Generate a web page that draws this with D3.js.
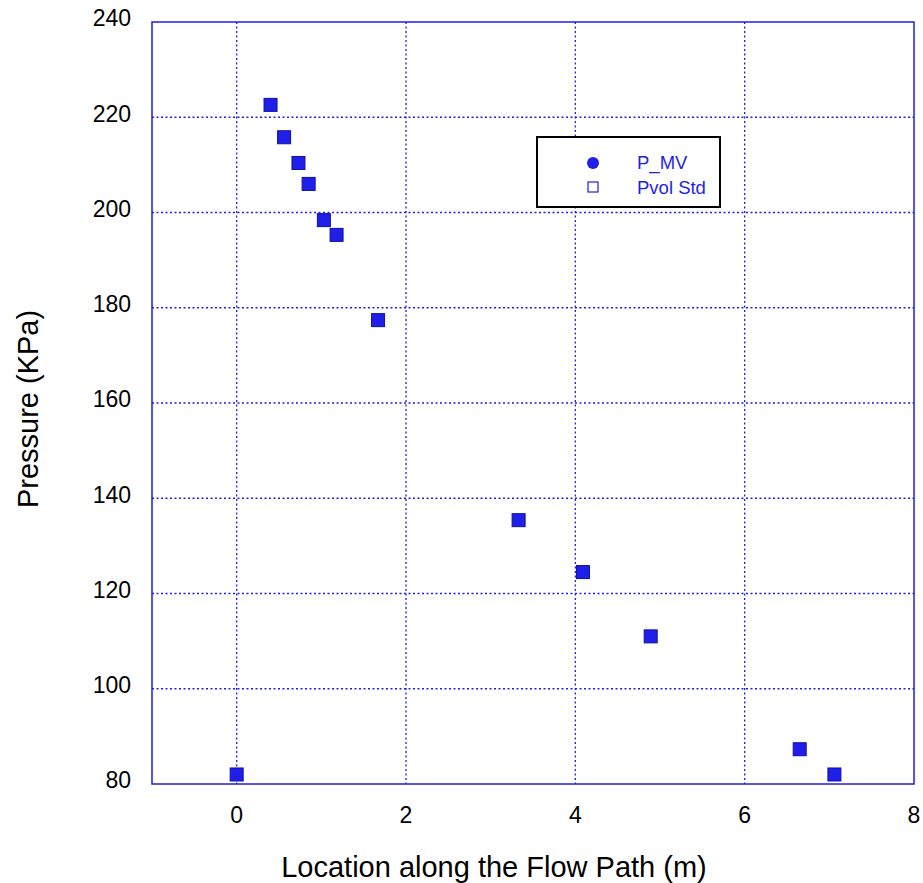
<!DOCTYPE html>
<html>
<head>
<meta charset="utf-8">
<script src="https://cdn.jsdelivr.net/npm/d3@7"></script>
<style>
  body { margin: 0; background: #fff; }
  text { font-family: "Liberation Sans", Arial, sans-serif; }
</style>
</head>
<body>
<svg width="923" height="883"></svg>
<script>
// values
const location_m = [0, 0.40, 0.56, 0.73, 0.85, 1.03, 1.18, 1.67, 3.33, 4.09, 4.89, 6.65, 7.06];
const pressure = [82, 222.6, 215.8, 210.4, 206, 198.4, 195.3, 177.4, 135.4, 124.5, 111, 87.3, 82];
const xTicks = [0, 2, 4, 6, 8];
const yTicks = [80, 100, 120, 140, 160, 180, 200, 220, 240];
const legendNames = ['P_MV', 'Pvol Std'];

const blue = '#1f1fe8';
const svg = d3.select('svg');
const m = { left: 152, right: 914, top: 22, bottom: 784 };

const x = d3.scaleLinear().domain([-1, 8]).range([m.left, m.right]);
const y = d3.scaleLinear().domain([80, 240]).range([m.bottom, m.top]);

// grid
const grid = svg.append('g').attr('stroke', blue).attr('stroke-width', 1.3).attr('stroke-dasharray', '2,2.5');
grid.selectAll('line.v').data(xTicks.filter(d => d > -1 && d < 8)).enter().append('line')
  .attr('x1', d => x(d)).attr('x2', d => x(d)).attr('y1', m.top).attr('y2', m.bottom);
grid.selectAll('line.h').data(yTicks.filter(d => d > 80 && d < 240)).enter().append('line')
  .attr('x1', m.left).attr('x2', m.right).attr('y1', d => y(d)).attr('y2', d => y(d));

// frame
svg.append('rect').attr('x', m.left).attr('y', m.top)
  .attr('width', m.right - m.left).attr('height', m.bottom - m.top)
  .attr('fill', 'none').attr('stroke', blue).attr('stroke-width', 1.5);

// tick labels
svg.append('g').selectAll('text').data(yTicks).enter().append('text')
  .attr('x', 131).attr('y', d => y(d) - 4).attr('dy', '0.36em')
  .attr('text-anchor', 'end').attr('font-size', 23).text(d => d);
svg.append('g').selectAll('text').data(xTicks).enter().append('text')
  .attr('x', d => x(d)).attr('y', 815).attr('dy', '0.36em')
  .attr('text-anchor', 'middle').attr('font-size', 23).text(d => d);

// axis titles
svg.append('text').attr('x', 494).attr('y', 877).attr('text-anchor', 'middle')
  .attr('font-size', 29).text('Location along the Flow Path (m)');
svg.append('text').attr('transform', 'translate(38,409) rotate(-90)')
  .attr('text-anchor', 'middle').attr('font-size', 29).text('Pressure (KPa)');

// points
const pts = location_m.map((d, i) => [d, pressure[i]]);
svg.append('g').selectAll('rect').data(pts).enter().append('rect')
  .attr('x', d => x(d[0]) - 6.5).attr('y', d => y(d[1]) - 6.5)
  .attr('width', 13).attr('height', 13)
  .attr('fill', blue).attr('stroke', '#1010a8').attr('stroke-width', 1);

// legend
const lg = svg.append('g');
lg.append('rect').attr('x', 537).attr('y', 137).attr('width', 183).attr('height', 70)
  .attr('fill', '#fff').attr('stroke', '#000').attr('stroke-width', 2);
lg.append('circle').attr('cx', 593).attr('cy', 163).attr('r', 6).attr('fill', blue);
lg.append('rect').attr('x', 588).attr('y', 182).attr('width', 10).attr('height', 10)
  .attr('fill', 'none').attr('stroke', blue).attr('stroke-width', 1.2);
lg.selectAll('text').data(legendNames).enter().append('text')
  .attr('x', 637).attr('y', (d, i) => 162 + i * 25).attr('dy', '0.36em')
  .attr('font-size', 18.5).attr('fill', blue).text(d => d);
</script>
</body>
</html>
